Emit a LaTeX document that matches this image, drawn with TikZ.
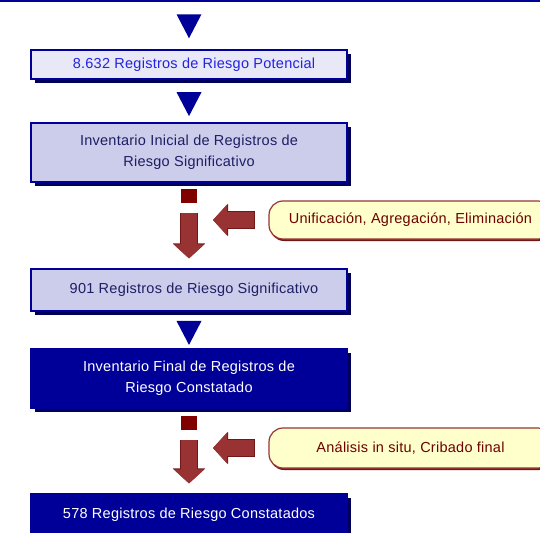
\documentclass[tikz,border=0pt]{standalone}
\usepackage{fontspec}
\setmainfont[LetterSpace=1.8]{Liberation Sans}
\usetikzlibrary{shapes.geometric,shadows,arrows.meta}

\definecolor{navy}{RGB}{0,0,153}
\definecolor{navyshade}{RGB}{0,0,90}
\definecolor{lilac}{RGB}{204,204,235}
\definecolor{palelilac}{RGB}{232,232,246}
\definecolor{inkblue}{RGB}{35,35,225}
\definecolor{inkdark}{RGB}{30,30,100}
\definecolor{brick}{RGB}{153,51,51}
\definecolor{brickdark}{RGB}{112,24,24}
\definecolor{maroon}{RGB}{128,0,0}
\definecolor{cream}{RGB}{255,255,204}

\begin{document}
\begin{tikzpicture}[
    x=1pt, y=-1pt,
    font=\fontsize{14.5}{21}\selectfont,
    box/.style={rectangle,draw=navy,line width=1.2pt,minimum width=316pt,inner sep=0,align=center,
      drop shadow={shadow xshift=4pt,shadow yshift=-4pt,fill=navyshade,opacity=1}},
    tri/.style={isosceles triangle,isosceles triangle stretches,shape border rotate=270,
      fill=navy,inner sep=0,minimum width=25pt,minimum height=24pt},
    stopper/.style={rectangle,fill=maroon,inner sep=0,minimum width=16pt,minimum height=14pt},
    note/.style={rectangle,rounded corners=14pt,draw=brick,line width=1.2pt,fill=cream,
      text=maroon!85!black,minimum width=283pt,inner sep=0,
      drop shadow={shadow xshift=1pt,shadow yshift=-2pt,fill=brickdark,opacity=1}},
    fatrim/.style={brickdark,line width=17.4pt,-{Triangle[width=31.6pt,length=15pt]}},
    fat/.style={brick,line width=16pt,-{Triangle[width=30pt,length=14pt]}}
    ]
    \useasboundingbox (0,0) rectangle (540,532);

    % rule at the top
    \node[fill=navy,inner sep=0,minimum width=540pt,minimum height=2.5pt] (top) at (270,1.25) {};

    % boxes
    \node[box,fill=palelilac,text=inkblue,minimum height=29pt] (b1) at (189,64.5)
      {\hspace*{10pt}8.632 Registros de Riesgo Potencial};
    \node[box,fill=lilac,text=inkdark,minimum height=59pt] (b2) at (189,152.5)
      {Inventario Inicial de Registros de\\Riesgo Significativo};
    \node[box,fill=lilac,text=inkdark,minimum height=42pt] (b3) at (189,290)
      {\hspace*{10pt}901 Registros de Riesgo Significativo};
    \node[box,fill=navy,text=white,minimum height=59pt] (b4) at (189,378.5)
      {Inventario Final de Registros de\\Riesgo Constatado};
    \node[box,fill=navy,text=white,minimum height=42pt] (b5) at (189,515)
      {578 Registros de Riesgo Constatados};

    % notes
    \node[note,minimum height=38pt] (n1) at (410.5,220) {Unificación, Agregación, Eliminación};
    \node[note,minimum height=40pt] (n2) at (410.5,448) {Análisis in situ, Cribado final};

    % stoppers and joins
    \node[stopper] (s1) at (189,196) {};
    \node[stopper] (s2) at (189,423) {};
    \coordinate (j1) at (189,220);
    \coordinate (j2) at (189,448);

    % blue triangles
    \path (top.south -| b1.north) -- (b1.north) node[tri,pos=0.41] (t1) {};
    \path (b1.south) -- (b2.north) node[tri,pos=0.47] (t2) {};
    \path (b3.south) -- (b4.north) node[tri,pos=0.46] (t3) {};

    % fat arrows
    \draw[fatrim,shorten <=9.4pt,shorten >=10pt] (s1) -- (b3);
    \draw[fat,shorten <=10pt,shorten >=10pt] (s1) -- (b3);
    \draw[fatrim,shorten <=13.4pt,shorten >=24pt] (n1.west) -- (j1);
    \draw[fat,shorten <=14pt,shorten >=24pt] (n1.west) -- (j1);

    \draw[fatrim,shorten <=9.4pt,shorten >=10pt] (s2) -- (b5);
    \draw[fat,shorten <=10pt,shorten >=10pt] (s2) -- (b5);
    \draw[fatrim,shorten <=13.4pt,shorten >=24pt] (n2.west) -- (j2);
    \draw[fat,shorten <=14pt,shorten >=24pt] (n2.west) -- (j2);
  \end{tikzpicture}
\end{document}
